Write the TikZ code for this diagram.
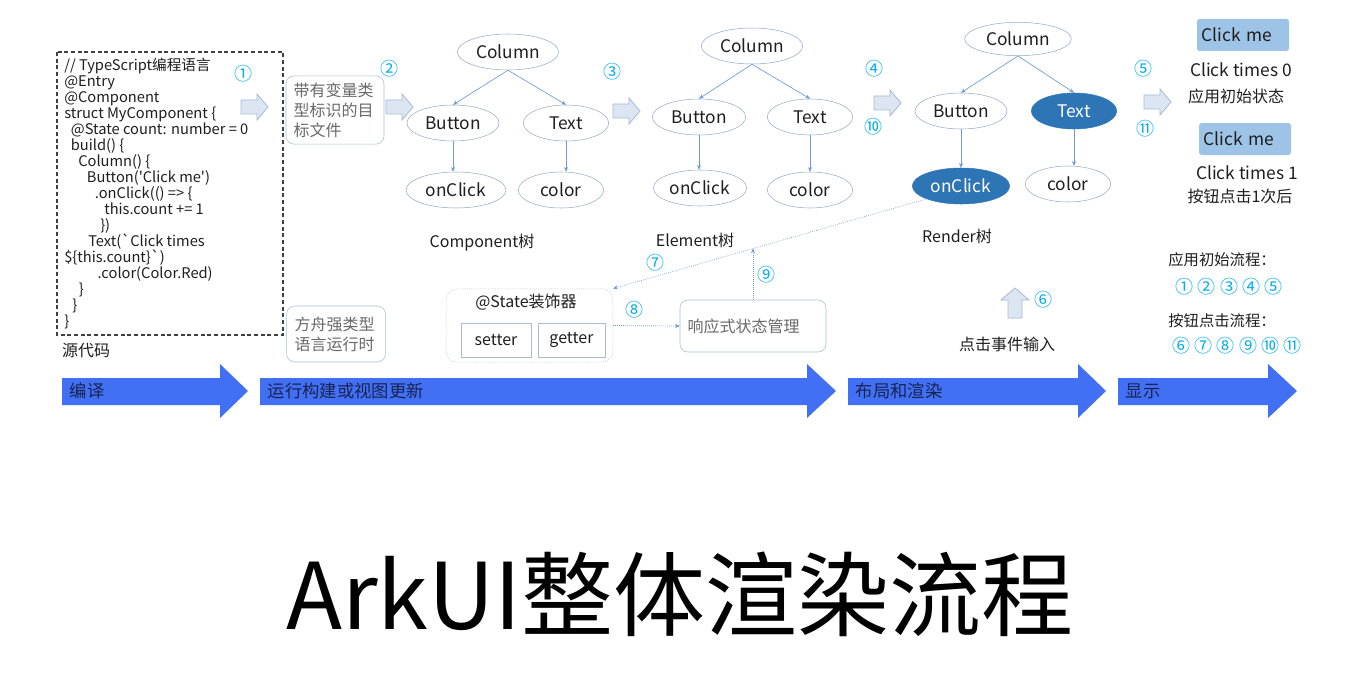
\documentclass[tikz,border=0pt]{standalone}
\usepackage{fontspec}
\setmainfont{Noto Sans CJK SC}
\usetikzlibrary{shapes.geometric,arrows.meta,calc}
\definecolor{ink}{RGB}{30,30,30}
\definecolor{treeline}{RGB}{150,170,200}
\definecolor{edgeblue}{RGB}{110,155,210}
\definecolor{hotblue}{RGB}{46,117,182}
\definecolor{numcyan}{RGB}{0,172,236}
\definecolor{boxline}{RGB}{170,188,210}
\definecolor{graytext}{RGB}{105,105,105}
\definecolor{flowblue}{RGB}{66,112,245}
\definecolor{flowink}{RGB}{25,35,80}
\definecolor{paleblue}{RGB}{220,230,243}
\definecolor{paleline}{RGB}{165,185,212}
\definecolor{btnblue}{RGB}{157,195,230}
\tikzstyle{treenode}=[ellipse, draw=treeline, text=ink, minimum height=27pt, inner sep=0pt, font=\fontsize{13}{15}\selectfont]
\tikzstyle{hotnode}=[treenode, fill=hotblue, draw=hotblue, text=white]
\tikzstyle{link}=[->, draw=edgeblue, line width=0.5pt]
\tikzstyle{dotlink}=[->, draw=edgeblue, densely dotted, line width=0.5pt]
\tikzstyle{stepnum}=[text=numcyan, font=\fontsize{13.5}{15}\selectfont]
\tikzstyle{treename}=[text=ink, font=\fontsize{12}{14}\selectfont]
\tikzstyle{plain}=[text=ink, font=\fontsize{12}{14}\selectfont]
\tikzstyle{softbox}=[rectangle, rounded corners=6pt, draw=boxline, text=graytext, align=left, inner sep=5pt, font=\fontsize{12}{15}\selectfont]
\tikzstyle{flowbar}=[fill=flowblue]
\tikzstyle{flowtext}=[anchor=west, text=flowink, font=\fontsize{13}{15}\selectfont]
\tikzstyle{hollowarr}=[fill=paleblue, draw=paleline, line width=0.6pt]
\tikzstyle{btn}=[rectangle, fill=btnblue, rounded corners=2pt, minimum width=69pt, minimum height=24pt, text width=62pt, align=left, text=ink, font=\fontsize{13}{15}\selectfont]

\begin{document}
\begin{tikzpicture}[x=0.75pt, y=-0.75pt, >={Stealth[length=3.5pt,width=3pt]}]
\useasboundingbox (0,0) rectangle (1346,674);
% source code
\draw[ink!85, dashed, line width=0.9pt, dash pattern=on 3pt off 2pt] (57,52) rectangle (283,335);
\node[anchor=north west, inner sep=0pt, align=left, text=ink, font=\fontsize{11}{12}\selectfont] (code) at (64,58) {%
// TypeScript编程语言\\
@Entry\\
@Component\\
struct MyComponent \{\\
\hspace*{5pt}@State count: number = 0\\
\hspace*{5pt}build() \{\\
\hspace*{10.5pt}Column() \{\\
\hspace*{17pt}Button(\textquotesingle Click me\textquotesingle)\\
\hspace*{23pt}.onClick(() => \{\\
\hspace*{30pt}this.count += 1\\
\hspace*{27pt}\})\\
\hspace*{18pt}Text(\textasciigrave Click times\\
\$\{this.count\}\textasciigrave)\\
\hspace*{25pt}.color(Color.Red)\\
\hspace*{11pt}\}\\
\hspace*{6pt}\}\\
\}};
\node[plain] (src) at (86,351) {源代码};

% small hollow arrows
\foreach \x/\y in {254/107, 399/107, 626/111, 887/103, 1157/102}
  \draw[hollowarr] ({\x-13},{\y-7}) -- ({\x+3},{\y-7}) -- ({\x+3},{\y-13}) -- ({\x+14},\y)
    -- ({\x+3},{\y+13}) -- ({\x+3},{\y+7}) -- ({\x-13},{\y+7}) -- cycle;
\draw[hollowarr] (1008,318) -- (1008,300) -- (1001,300) -- (1015,288) -- (1029,300) -- (1022,300) -- (1022,318) -- cycle;

% boxes
\node[softbox, minimum width=73.5pt, minimum height=49.5pt, text width=62pt] (tf) at (335,110) {带有变量类\\型标识的目\\标文件};
\node[softbox, minimum width=74pt, minimum height=42pt, text width=62pt] (rt) at (336,334) {方舟强类型\\语言运行时};

% trees
\node[treenode, minimum width=76pt] (c1) at (508,52) {Column};
\node[treenode, minimum width=69pt] (b1) at (453,123) {Button};
\node[treenode, minimum width=64pt] (t1) at (566,123) {Text};
\node[treenode, minimum width=75pt] (o1) at (456,190) {onClick};
\node[treenode, minimum width=64pt] (k1) at (561,190) {color};
\node[treename] (n1) at (482,243) {Component树};

\node[treenode, minimum width=76pt] (c2) at (752,46) {Column};
\node[treenode, minimum width=70pt] (b2) at (699,117) {Button};
\node[treenode, minimum width=64pt] (t2) at (810,117) {Text};
\node[treenode, minimum width=70pt] (o2) at (700,188) {onClick};
\node[treenode, minimum width=64pt] (k2) at (810,190) {color};
\node[treename] (n2) at (695,240) {Element树};

\node[treenode, minimum width=80pt, minimum height=25pt] (c3) at (1018,39) {Column};
\node[treenode, minimum width=69pt] (b3) at (961,111) {Button};
\node[hotnode, minimum width=64pt] (t3) at (1074,111) {Text};
\node[hotnode, minimum width=73pt] (o3) at (961,186) {onClick};
\node[treenode, minimum width=64pt] (k3) at (1068,184) {color};
\node[treename] (n3) at (957,236) {Render树};

\foreach \i in {1,2,3} {
  \draw[link] (c\i.south) -- (b\i.north);
  \draw[link] (c\i.south) -- (t\i.north);
  \draw[link] (b\i.south) -- (b\i.south |- o\i.north);
  \draw[link] (t\i.south) -- (t\i.south |- k\i.north);
}

% state handling
\node[rectangle, rounded corners=8pt, draw=treeline, densely dotted, minimum width=125pt, minimum height=55pt] (st) at (529.5,325.5) {};
\node[plain] (stname) at (526,302) {@State装饰器};
\node[rectangle, draw=boxline, minimum width=52.5pt, minimum height=25.5pt, plain] (set) at (496,340) {setter};
\node[rectangle, draw=boxline, minimum width=50pt, minimum height=25.5pt, plain] (get) at (571.5,340) {getter};
\node[softbox, minimum width=109.5pt, minimum height=39pt, text width=98pt] (rs) at (753,326) {响应式状态管理};

\coordinate (hit) at ($(o3.south west)!0.553!(st.north east)$);
\draw[dotlink] (o3.south west) -- (st.north east);
\draw[dotlink] (st.east) -- (rs.west);
\draw[dotlink] (rs.north) -- (rs.north |- hit);

\node[plain] (tap) at (1007,344) {点击事件输入};

% step numbers
\node[stepnum] (s1) at (243,74) {①};
\node[stepnum] (s2) at (389,69) {②};
\node[stepnum] (s3) at (612,72) {③};
\node[stepnum] (s4) at (874,69) {④};
\node[stepnum] (s10) at (873,127) {⑩};
\node[stepnum] (s5) at (1143,69) {⑤};
\node[stepnum] (s11) at (1145,129) {⑪};
\node[stepnum] (s6) at (1043,300) {⑥};
\node[stepnum] (s7) at (655,263) {⑦};
\node[stepnum] (s8) at (634,310) {⑧};
\node[stepnum] (s9) at (766,275) {⑨};

% display
\node[btn] (btn1) at (1243,35) {Click me};
\node[plain, font=\fontsize{13}{15}\selectfont] (ct0) at (1241,70) {Click times 0};
\node[plain] (init) at (1236,96) {应用初始状态};
\node[btn] (btn2) at (1245,139) {Click me};
\node[plain, font=\fontsize{13}{15}\selectfont] (ct1) at (1247,173) {Click times 1};
\node[plain] (after) at (1240,196) {按钮点击1次后};

\node[plain, font=\fontsize{11.5}{14}\selectfont] (flow1) at (1222,260) {应用初始流程：};
\node[stepnum] (list1) at (1229,287) {① ② ③ ④ ⑤};
\node[plain, font=\fontsize{11.5}{14}\selectfont] (flow2) at (1222,321) {按钮点击流程：};
\node[stepnum] (list2) at (1237,346) {⑥ ⑦ ⑧ ⑨ ⑩ ⑪};

% stage arrows
\foreach \l/\b/\t/\txt/\n in {62/220/248/编译/p1, 260/807/836/运行构建或视图更新/p2, 848/1078/1106/布局和渲染/p3, 1118/1268/1297/显示/p4} {
  \fill[flowbar] (\l,378) -- (\b,378) -- (\b,364) -- (\t,391) -- (\b,418) -- (\b,405) -- (\l,405) -- cycle;
  \node[flowtext] (\n) at ({\l+3},391) {\txt};
}

\node[text=black, font=\fontsize{69}{78}\selectfont] (title) at (680,594) {ArkUI整体渲染流程};
\end{tikzpicture}
\end{document}
